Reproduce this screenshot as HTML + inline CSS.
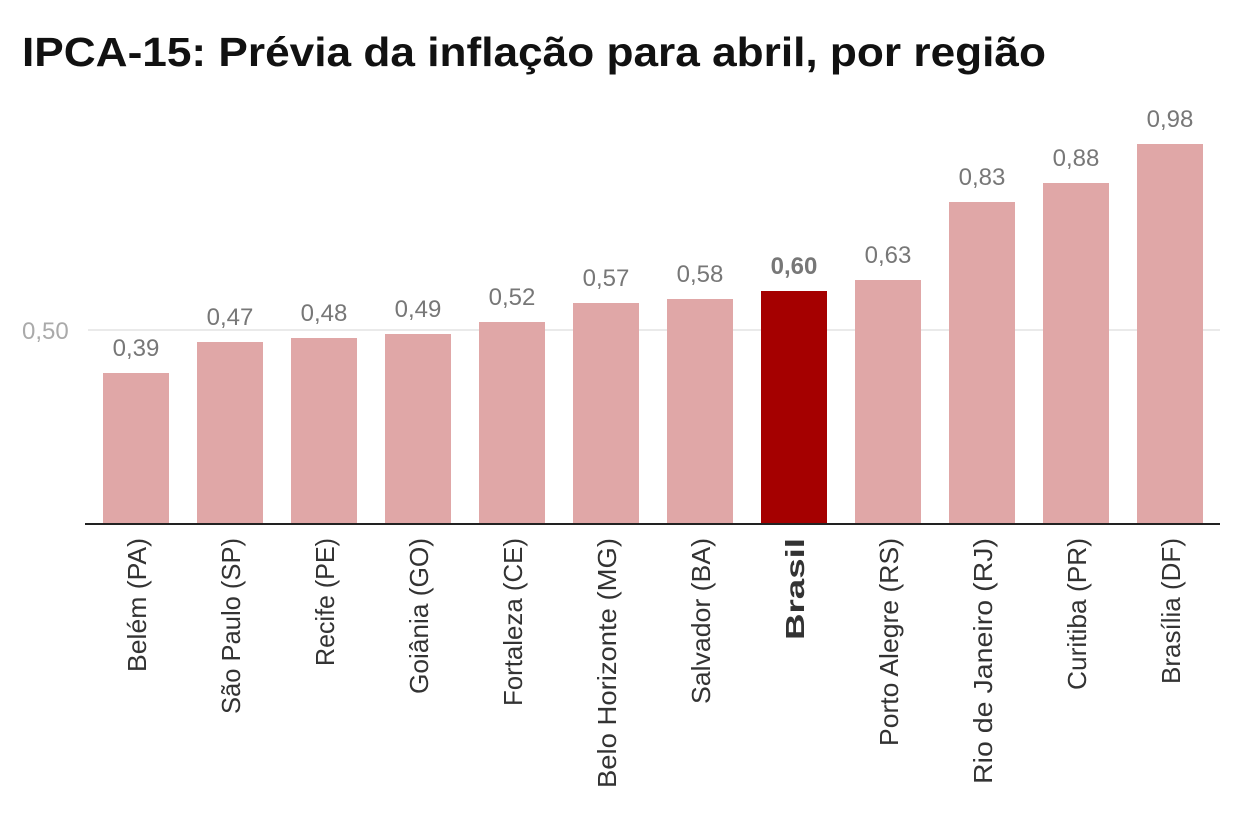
<!DOCTYPE html>
<html><head><meta charset="utf-8"><style>
body{margin:0;background:#fff;}
svg{display:block;font-family:"Liberation Sans",sans-serif;}
</style></head><body>
<svg width="1240" height="840" viewBox="0 0 1240 840">
<text x="22" y="66" font-size="41" font-weight="bold" fill="#111" textLength="1024" lengthAdjust="spacingAndGlyphs">IPCA-15: Prévia da inflação para abril, por região</text>
<line x1="88" y1="330" x2="1220" y2="330" stroke="#e3e3e3" stroke-width="1.5"/>
<text x="22" y="339" font-size="24" fill="#aaa">0,50</text>
<g font-size="24" fill="#777" text-anchor="middle">
<rect x="103" y="373" width="66" height="151" fill="#e0a7a7"/><text x="136" y="356">0,39</text>
<rect x="197" y="342" width="66" height="182" fill="#e0a7a7"/><text x="230" y="325">0,47</text>
<rect x="291" y="338" width="66" height="186" fill="#e0a7a7"/><text x="324" y="321">0,48</text>
<rect x="385" y="334" width="66" height="190" fill="#e0a7a7"/><text x="418" y="317">0,49</text>
<rect x="479" y="322" width="66" height="202" fill="#e0a7a7"/><text x="512" y="305">0,52</text>
<rect x="573" y="303" width="66" height="221" fill="#e0a7a7"/><text x="606" y="286">0,57</text>
<rect x="667" y="299" width="66" height="225" fill="#e0a7a7"/><text x="700" y="282">0,58</text>
<rect x="761" y="291" width="66" height="233" fill="#a50000"/><text x="794" y="274" font-weight="bold">0,60</text>
<rect x="855" y="280" width="66" height="244" fill="#e0a7a7"/><text x="888" y="263">0,63</text>
<rect x="949" y="202" width="66" height="322" fill="#e0a7a7"/><text x="982" y="185">0,83</text>
<rect x="1043" y="183" width="66" height="341" fill="#e0a7a7"/><text x="1076" y="166">0,88</text>
<rect x="1137" y="144" width="66" height="380" fill="#e0a7a7"/><text x="1170" y="127">0,98</text>
</g>
<line x1="85" y1="524" x2="1220" y2="524" stroke="#222" stroke-width="2"/>
<g font-size="26" fill="#333" text-anchor="end" lengthAdjust="spacingAndGlyphs">
<text transform="translate(146,538) rotate(-90)" textLength="134" lengthAdjust="spacingAndGlyphs">Belém (PA)</text>
<text transform="translate(240,538) rotate(-90)" textLength="176" lengthAdjust="spacingAndGlyphs">São Paulo (SP)</text>
<text transform="translate(334,538) rotate(-90)" textLength="128" lengthAdjust="spacingAndGlyphs">Recife (PE)</text>
<text transform="translate(428,538) rotate(-90)" textLength="156" lengthAdjust="spacingAndGlyphs">Goiânia (GO)</text>
<text transform="translate(522,538) rotate(-90)" textLength="168" lengthAdjust="spacingAndGlyphs">Fortaleza (CE)</text>
<text transform="translate(616,538) rotate(-90)" textLength="250" lengthAdjust="spacingAndGlyphs">Belo Horizonte (MG)</text>
<text transform="translate(710,538) rotate(-90)" textLength="166" lengthAdjust="spacingAndGlyphs">Salvador (BA)</text>
<text transform="translate(804,538) rotate(-90)" font-weight="bold" textLength="102" lengthAdjust="spacingAndGlyphs">Brasil</text>
<text transform="translate(898,538) rotate(-90)" textLength="208" lengthAdjust="spacingAndGlyphs">Porto Alegre (RS)</text>
<text transform="translate(992,538) rotate(-90)" textLength="246" lengthAdjust="spacingAndGlyphs">Rio de Janeiro (RJ)</text>
<text transform="translate(1086,538) rotate(-90)" textLength="152" lengthAdjust="spacingAndGlyphs">Curitiba (PR)</text>
<text transform="translate(1180,538) rotate(-90)" textLength="146" lengthAdjust="spacingAndGlyphs">Brasília (DF)</text>
</g>
</svg>
</body></html>
